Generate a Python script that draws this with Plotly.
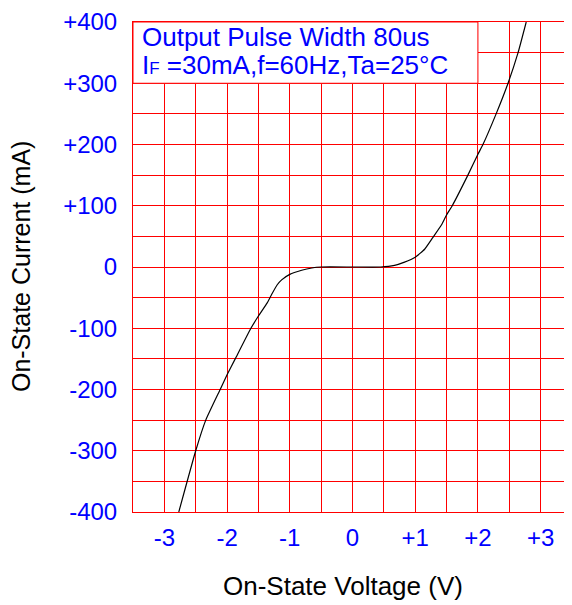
import plotly.graph_objects as go

# Data
voltage = [-2.77, -2.5, -2.34, -2.11, -2.0, -1.87, -1.62, -1.5, -1.36, -1.29, -1.2, -1.13,
           -1.0, -0.81, -0.65, -0.5, 0.0, 0.45, 0.67, 0.83, 1.0, 1.15, 1.28, 1.42, 1.5,
           1.59, 1.84, 2.0, 2.08, 2.29, 2.48, 2.64, 2.77]
current = [-400, -300, -250, -200, -176, -150, -100, -80, -58.6, -45, -29, -21,
           -12, -5.3, -1.6, 0, 0, 0, 2.7, 8, 16, 29, 48, 69, 85,
           100, 150, 184, 200, 250, 300, 350, 400]

x_tickvals = [-3, -2, -1, 0, 1, 2, 3]
x_ticktext = ["-3", "-2", "-1", "0", "+1", "+2", "+3"]
y_tickvals = [-400, -300, -200, -100, 0, 100, 200, 300, 400]
y_ticktext = ["-400", "-300", "-200", "-100", "0", "+100", "+200", "+300", "+400"]

x_title = "On-State Voltage (V)"
y_title = "On-State Current (mA)"
note_line1 = "Output Pulse Width 80us"
note_line2 = "I<span style='font-size:17px'>F</span> =30mA,f=60Hz,Ta=25°C"

FONT = "Liberation Sans, Arial, sans-serif"
RED = "#FF0000"
BLUE = "#0000FF"

fig = go.Figure()
fig.add_trace(go.Scatter(
    x=voltage, y=current, mode="lines",
    line=dict(color="black", width=1.2, shape="spline", smoothing=0.4),
    hoverinfo="skip", showlegend=False,
))

fig.update_layout(
    width=564, height=597,
    margin=dict(l=125, r=0, t=4, b=93),
    paper_bgcolor="white", plot_bgcolor="white",
    font=dict(family=FONT),
    xaxis=dict(
        range=[-3.5, 3.5], tickvals=x_tickvals, ticktext=x_ticktext,
        showgrid=True, gridcolor=RED, gridwidth=1,
        minor=dict(dtick=0.5, tick0=0, showgrid=True, gridcolor=RED, gridwidth=1),
        zeroline=True, zerolinecolor=RED, zerolinewidth=1,
        showline=True, linecolor=RED, linewidth=1, mirror=True,
        ticks="", tickfont=dict(family=FONT, size=24, color=BLUE),
        ticklabelstandoff=4, ticklabeloverflow="allow",
    ),
    yaxis=dict(
        range=[-400, 400], tickvals=y_tickvals, ticktext=y_ticktext,
        showgrid=True, gridcolor=RED, gridwidth=1,
        minor=dict(dtick=50, tick0=0, showgrid=True, gridcolor=RED, gridwidth=1),
        zeroline=True, zerolinecolor=RED, zerolinewidth=1,
        showline=True, linecolor=RED, linewidth=1, mirror=False,
        ticks="", tickfont=dict(family=FONT, size=24, color=BLUE),
        ticklabelstandoff=10, ticklabeloverflow="allow",
    ),
    shapes=[dict(
        type="rect", xref="x", yref="y", x0=-3.5, x1=2.0, y0=300, y1=400,
        fillcolor="white", line=dict(color=RED, width=1), layer="above",
    )],
    annotations=[
        dict(text=x_title, xref="paper", yref="paper", x=0.478, y=-0.152,
             xanchor="center", yanchor="middle", showarrow=False,
             font=dict(family=FONT, size=26, color="black")),
        dict(text=y_title, xref="paper", yref="paper", x=-0.255, y=0.5,
             xanchor="center", yanchor="middle", showarrow=False, textangle=-90,
             font=dict(family=FONT, size=25, color="black")),
        dict(text=note_line1, xref="paper", yref="paper", x=0.016, y=0.9696,
             xanchor="left", yanchor="middle", showarrow=False,
             font=dict(family=FONT, size=26, color=BLUE)),
        dict(text=note_line2, xref="paper", yref="paper", x=0.016, y=0.9116,
             xanchor="left", yanchor="middle", showarrow=False,
             font=dict(family=FONT, size=26, color=BLUE)),
    ],
)

fig.write_html("out.html")
